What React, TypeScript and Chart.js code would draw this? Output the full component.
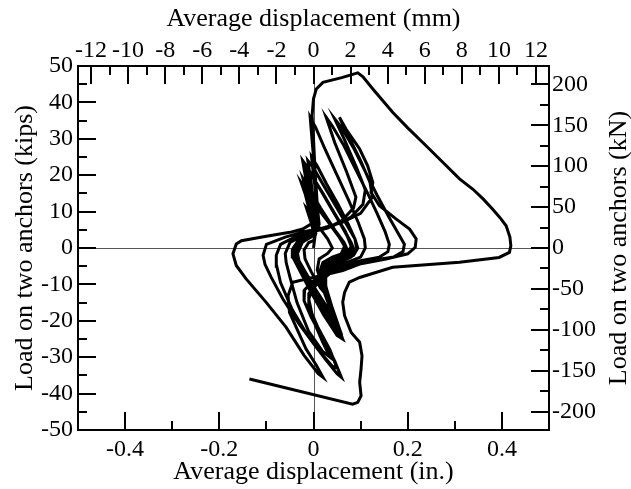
import React, { useEffect, useRef } from 'react';
import { Chart, registerables } from 'chart.js';

Chart.register(...registerables);

// ---- axis tick values ----
const inchMajor = [-0.4, -0.2, 0, 0.2, 0.4];
const inchMinor = [-0.3, -0.1, 0.1, 0.3];
const mmMajor = [-12, -10, -8, -6, -4, -2, 0, 2, 4, 6, 8, 10, 12];
const mmMinor = [-11, -9, -7, -5, -3, -1, 1, 3, 5, 7, 9, 11];
const kipMajor = [-50, -40, -30, -20, -10, 0, 10, 20, 30, 40, 50];
const kipMinor = [-45, -35, -25, -15, -5, 5, 15, 25, 35, 45];
const knMajor = [-200, -150, -100, -50, 0, 50, 100, 150, 200];
const knMinor = [-175, -125, -75, -25, 25, 75, 125, 175];

const inchRange = [-0.5, 0.5];
const mmRange = [-12.7, 12.7];
const kipRange = [-50, 50];
const knRange = [-222.4, 222.4];

// ---- hysteresis data: [displacement (in.), load (kips)] ----
const cycle0 = [
  [0, 0], [0.003, 3], [-0.005, 7], [-0.015, 11], [-0.008, 10], [0.01, 6], [0.03, 2.5], [0.04, 0],
  [0.03, -1.5], [0.012, -3], [0.008, -6], [0.018, -10], [0.028, -13], [0.015, -11], [-0.005, -6.5],
  [-0.018, -3], [-0.02, -0.5], [-0.01, 1.5], [0.0, 2],
];
const cycle1 = [
  [0.005, 4], [-0.008, 10], [-0.018, 15], [-0.026, 18],
  [-0.015, 16], [0.01, 11], [0.04, 5.5], [0.06, 2], [0.069, 0],
  [0.062, -1.5], [0.04, -2.5], [0.02, -4], [0.012, -7], [0.02, -11], [0.032, -15], [0.041, -18.5],
  [0.03, -16.5], [0.005, -11.5], [-0.02, -6], [-0.033, -3], [-0.035, -1], [-0.025, 1.5], [-0.005, 3],
];
const cycle1b = [
  [0.004, 4], [-0.006, 11], [-0.016, 16], [-0.022, 19], [-0.01, 16.5], [0.015, 11], [0.045, 5],
  [0.065, 1.5], [0.072, -0.5], [0.06, -2], [0.035, -3], [0.018, -5], [0.015, -9], [0.025, -13],
  [0.038, -17.5], [0.048, -21], [0.036, -19], [0.01, -13], [-0.015, -7.5], [-0.032, -3.5], [-0.036, -1],
  [-0.026, 1.8], [-0.004, 3.5],
];
const cycle1c = [
  [0.006, 5], [-0.004, 10], [-0.014, 14], [-0.02, 16.5], [-0.006, 14], [0.02, 9], [0.05, 4],
  [0.066, 0.5], [0.058, -1.8], [0.032, -3.2], [0.016, -6], [0.02, -10.5], [0.035, -16], [0.05, -22],
  [0.04, -21], [0.015, -15], [-0.012, -8.5], [-0.03, -4], [-0.034, -1.5], [-0.024, 1.5], [-0.002, 3.5],
];
const cycle2 = [
  [0.005, 5], [-0.005, 12], [-0.015, 18], [-0.023, 24],
  [-0.012, 22], [0.01, 17], [0.035, 11.5], [0.06, 6], [0.077, 2], [0.083, 0],
  [0.075, -1.5], [0.05, -3], [0.028, -4.5], [0.018, -7.5], [0.025, -12], [0.04, -17.5], [0.055, -23],
  [0.045, -22], [0.02, -17], [-0.01, -10.5], [-0.03, -5.5], [-0.04, -2.5], [-0.04, -0.5], [-0.028, 2], [-0.005, 3.5],
];
const cycle2b = [
  [0.008, 5.5], [-0.002, 13], [-0.012, 19], [-0.02, 23], [-0.008, 21], [0.015, 16], [0.04, 10.5],
  [0.065, 5], [0.08, 1.5], [0.086, -0.5], [0.078, -2], [0.052, -3.2], [0.03, -5], [0.022, -8.5],
  [0.03, -13.5], [0.045, -19], [0.058, -24], [0.047, -23], [0.022, -18], [-0.008, -11], [-0.028, -6],
  [-0.042, -2.5], [-0.041, 0], [-0.028, 2.5], [-0.004, 4],
];
const cycle2c = [
  [0.009, 6], [0.0, 12], [-0.01, 18.5], [-0.018, 22], [-0.004, 20], [0.02, 15], [0.045, 9.5],
  [0.068, 4.5], [0.08, 0.5], [0.07, -2], [0.045, -3.5], [0.026, -6], [0.026, -10.5], [0.04, -16.5],
  [0.056, -22.5], [0.044, -21], [0.018, -16], [-0.012, -9], [-0.032, -4.5], [-0.04, -1.5], [-0.03, 2],
  [-0.002, 4],
];
const cycle3 = [
  [0.01, 6], [0.0, 13], [-0.006, 19], [-0.012, 24],
  [0.0, 22], [0.02, 17.5], [0.045, 12], [0.07, 6.5], [0.088, 2.5], [0.094, 0],
  [0.085, -2], [0.06, -3.5], [0.035, -5], [0.022, -8], [0.028, -13], [0.045, -19], [0.062, -25],
  [0.05, -24], [0.025, -19], [-0.005, -12], [-0.03, -6], [-0.044, -2.5], [-0.045, -0.5], [-0.03, 2.5], [0.0, 4.5],
];
const cycle3b = [
  [0.012, 6.5], [0.006, 14], [0.0, 20], [-0.004, 25], [0.008, 22.5], [0.028, 17.5], [0.052, 12],
  [0.074, 6.5], [0.088, 2.5], [0.092, -0.5], [0.08, -2.5], [0.055, -4], [0.032, -5.5], [0.024, -9],
  [0.032, -14], [0.048, -20], [0.06, -24.5], [0.048, -23.5], [0.022, -18.5], [-0.008, -11.5],
  [-0.03, -6], [-0.043, -2.5], [-0.043, 0], [-0.03, 2.5], [0.0, 4.5],
];
const cycle4 = [
  [0.01, 8], [0.005, 18], [-0.002, 28], [-0.007, 35.9],
  [0.005, 33], [0.025, 27], [0.05, 20], [0.075, 13], [0.095, 7], [0.108, 2.5], [0.11, 0],
  [0.1, -2.5], [0.07, -4], [0.04, -5.5], [0.02, -7.5], [0.0, -10], [-0.01, -14], [0.0, -20], [0.02, -26], [0.035, -30],
  [0.02, -28.5], [-0.01, -23], [-0.035, -15], [-0.05, -8], [-0.058, -4], [-0.06, -1.5], [-0.05, 1.5], [-0.02, 3.5], [0.0, 4.5],
];
const cycle5 = [
  [0.03, 5.5], [0.06, 7.5], [0.085, 11], [0.09, 14], [0.07, 21], [0.045, 29], [0.027, 35.9],
  [0.04, 33.5], [0.065, 28], [0.09, 21.5], [0.115, 15], [0.135, 9.5], [0.152, 4.5], [0.161, 1], [0.158, -1],
  [0.14, -2.5], [0.1, -3.5], [0.06, -5], [0.03, -7], [0.0, -9], [-0.019, -11.5], [-0.02, -14.5], [-0.005, -19],
  [0.02, -25], [0.045, -31], [0.059, -35.5],
  [0.05, -34.5], [0.025, -30.5], [-0.01, -24.5], [-0.045, -17], [-0.07, -9.5], [-0.078, -5], [-0.079, -2],
  [-0.07, 1], [-0.04, 3], [0.0, 4.5],
];
const cycle6 = [
  [0.04, 6], [0.08, 8.5], [0.105, 12], [0.11, 16], [0.09, 22.5], [0.065, 30], [0.045, 35.5],
  [0.06, 33], [0.085, 27.5], [0.11, 21], [0.135, 14.5], [0.16, 8.5], [0.18, 4], [0.193, 1], [0.19, -1],
  [0.17, -2.5], [0.12, -3.5], [0.07, -5], [0.035, -7], [0.01, -9.5], [-0.01, -12.5], [-0.01, -16], [0.01, -22],
  [0.035, -28], [0.05, -33],
  [0.04, -32.5], [0.01, -28], [-0.03, -21], [-0.065, -14], [-0.09, -8], [-0.103, -4.5], [-0.107, -2],
  [-0.1, 1], [-0.06, 3], [-0.02, 4.5], [0.02, 5.5],
];
const cycle7 = [
  [0.06, 7], [0.1, 9.5], [0.125, 14], [0.12, 18], [0.1, 24], [0.075, 30.5], [0.055, 35.9],
  [0.069, 32.7], [0.098, 27.2], [0.115, 22.6], [0.126, 18], [0.122, 15.3], [0.14, 11.6], [0.175, 8],
  [0.204, 5.2], [0.218, 2.5], [0.216, 0.2],
  [0.2, -1.6], [0.154, -3], [0.098, -4.4], [0.062, -6.2], [0.02, -7.5], [-0.016, -8.5], [-0.044, -9.4],
  [-0.054, -13.1], [-0.051, -17.7], [-0.016, -27.7], [0.005, -32], [0.02, -35.5],
  [0.01, -34.5], [-0.02, -29.5], [-0.058, -21.8], [-0.1, -15], [-0.143, -8.5], [-0.164, -4.8], [-0.171, -1.6],
  [-0.164, 1.1], [-0.153, 2],
];
const cycleFinal = [
  [-0.1, 3.2], [-0.05, 4.3], [-0.023, 5.2], [0.0, 7], [0.005, 12], [0.003, 22], [0.0, 30], [-0.003, 36.4],
  [0.0, 41], [0.006, 43.7], [0.02, 45.5], [0.06, 46.8], [0.094, 48.1],
  [0.105, 47], [0.126, 43.7], [0.168, 37.3], [0.2, 33], [0.239, 28.1], [0.275, 23.5], [0.31, 19], [0.338, 16.2],
  [0.36, 13.5], [0.38, 10.7], [0.398, 8], [0.409, 6.1], [0.417, 3], [0.419, 0.6], [0.416, -1.2],
  [0.394, -2.6], [0.31, -3.9], [0.168, -5.3], [0.098, -8.1], [0.076, -9.4], [0.066, -12.2], [0.062, -14.9],
  [0.066, -18.6], [0.08, -23.2], [0.098, -25.9], [0.103, -29.6], [0.101, -33.2], [0.098, -36.9], [0.101, -40.6],
  [0.094, -42.4], [0.083, -42.9], [-0.136, -36],
];

const cycles = [
  cycle0, cycle1, cycle1b, cycle1c, cycle2, cycle2b, cycle2c, cycle3, cycle3b,
  cycle4, cycle5, cycle6, cycle7, cycleFinal,
];

const FONT = "'Liberation Serif', 'Times New Roman', serif";
const tickFont = { family: FONT, size: 24 };
const titleFont = { family: FONT, size: 26 };

const fmt = (v: number) => (Math.abs(v) < 1e-9 ? '0' : String(Math.round(v * 1000) / 1000));

const frameTicks = {
  id: 'frameTicks',
  beforeDatasetsDraw(chart: any) {
    const { ctx, chartArea, scales } = chart;
    ctx.save();
    ctx.fillStyle = '#555';
    const y0 = Math.round(scales.y.getPixelForValue(0));
    const x0 = Math.round(scales.x.getPixelForValue(0));
    ctx.fillRect(chartArea.left, y0, chartArea.right - chartArea.left, 1);
    ctx.fillRect(x0, chartArea.top, 1, chartArea.bottom - chartArea.top);
    ctx.restore();
  },
  afterDraw(chart: any) {
    const { ctx, chartArea, scales } = chart;
    const L = chartArea.left;
    const R = chartArea.right;
    const T = chartArea.top;
    const B = chartArea.bottom;
    const MAJ = 18;
    const MIN = 9;
    ctx.save();
    ctx.fillStyle = '#000';
    const sx = scales.x;
    const sx2 = scales.x2;
    const sy = scales.y;
    const sy2 = scales.y2;
    for (const v of inchMajor) { const p = Math.round(sx.getPixelForValue(v)); ctx.fillRect(p - 1, B - MAJ, 2, MAJ); }
    for (const v of inchMinor) { const p = Math.round(sx.getPixelForValue(v)); ctx.fillRect(p - 1, B - MIN, 2, MIN); }
    for (const v of mmMajor) { const p = Math.round(sx2.getPixelForValue(v)); ctx.fillRect(p - 1, T, 2, MAJ); }
    for (const v of mmMinor) { const p = Math.round(sx2.getPixelForValue(v)); ctx.fillRect(p - 1, T, 2, MIN); }
    for (const v of kipMajor) { const p = Math.round(sy.getPixelForValue(v)); ctx.fillRect(L, p - 1, MAJ, 2); }
    for (const v of kipMinor) { const p = Math.round(sy.getPixelForValue(v)); ctx.fillRect(L, p - 1, MIN, 2); }
    for (const v of knMajor) { const p = Math.round(sy2.getPixelForValue(v)); ctx.fillRect(R - MAJ, p - 1, MAJ, 2); }
    for (const v of knMinor) { const p = Math.round(sy2.getPixelForValue(v)); ctx.fillRect(R - MIN, p - 1, MIN, 2); }
    // frame
    ctx.fillRect(L - 1, T - 1, R - L + 2, 2);
    ctx.fillRect(L - 1, B - 1, R - L + 2, 2);
    ctx.fillRect(L - 1, T - 1, 2, B - T + 2);
    ctx.fillRect(R - 1, T - 1, 2, B - T + 2);

    // right axis title, reading bottom-to-top
    ctx.font = `26px ${FONT}`;
    ctx.textAlign = 'center';
    ctx.textBaseline = 'middle';
    ctx.translate(619, (T + B) / 2);
    ctx.rotate(-Math.PI / 2);
    ctx.fillText('Load on two anchors (kN)', 0, 0);
    ctx.restore();
  },
};

const baseAxis = {
  type: 'linear' as const,
  grid: { display: false, drawTicks: false },
  border: { display: false },
};

export default function App() {
  const ref = useRef<HTMLCanvasElement | null>(null);

  useEffect(() => {
    if (!ref.current) return;
    const points = cycles.flat().map(([x, y]) => ({ x, y }));
    const chart = new Chart(ref.current, {
      type: 'scatter',
      data: {
        datasets: [
          {
            data: points,
            showLine: true,
            borderColor: '#000',
            backgroundColor: '#000',
            borderWidth: 3,
            pointRadius: 0,
            tension: 0,
            xAxisID: 'x',
            yAxisID: 'y',
          },
        ],
      },
      options: {
        animation: false,
        responsive: false,
        maintainAspectRatio: false,
        layout: { padding: 0 },
        plugins: { legend: { display: false }, tooltip: { enabled: false } },
        scales: {
          x: {
            ...baseAxis,
            position: 'bottom',
            min: inchRange[0],
            max: inchRange[1],
            afterBuildTicks: (s: any) => {
              s.ticks = inchMajor.map((v) => ({ value: v }));
            },
            afterFit: (s: any) => {
              s.height = 59;
            },
            ticks: { font: tickFont, color: '#000', padding: 5, autoSkip: false, maxRotation: 0, minRotation: 0, callback: (v: any) => fmt(v) },
            title: { display: true, text: 'Average displacement (in.)', font: titleFont, color: '#000', padding: { top: 0, bottom: 1 } },
          },
          x2: {
            ...baseAxis,
            position: 'top',
            min: mmRange[0],
            max: mmRange[1],
            afterBuildTicks: (s: any) => {
              s.ticks = mmMajor.map((v) => ({ value: v }));
            },
            afterFit: (s: any) => {
              s.height = 66;
            },
            ticks: { font: tickFont, color: '#000', padding: 1, autoSkip: false, maxRotation: 0, minRotation: 0, callback: (v: any) => fmt(v) },
            title: { display: true, text: 'Average displacement (mm)', font: titleFont, color: '#000', padding: { top: 4, bottom: 0 } },
          },
          y: {
            ...baseAxis,
            position: 'left',
            min: kipRange[0],
            max: kipRange[1],
            afterBuildTicks: (s: any) => {
              s.ticks = kipMajor.map((v) => ({ value: v }));
            },
            afterFit: (s: any) => {
              s.width = 78;
            },
            ticks: { font: tickFont, color: '#000', padding: 5, autoSkip: false, callback: (v: any) => fmt(v) },
            title: { display: true, text: 'Load on two anchors (kips)', font: titleFont, color: '#000', padding: { top: 10, bottom: 0 } },
          },
          y2: {
            ...baseAxis,
            position: 'right',
            min: knRange[0],
            max: knRange[1],
            afterBuildTicks: (s: any) => {
              s.ticks = knMajor.map((v) => ({ value: v }));
            },
            afterFit: (s: any) => {
              s.width = 82;
            },
            ticks: { font: tickFont, color: '#000', padding: 3, autoSkip: false, callback: (v: any) => fmt(v) },
          },
        },
      } as any,
      plugins: [frameTicks],
    });
    return () => chart.destroy();
  }, []);

  return (
    <div style={{ position: 'absolute', left: 0, top: 0, width: 631, height: 489, background: '#fff' }}>
      <canvas ref={ref} width={631} height={489} style={{ display: 'block' }} />
    </div>
  );
}
